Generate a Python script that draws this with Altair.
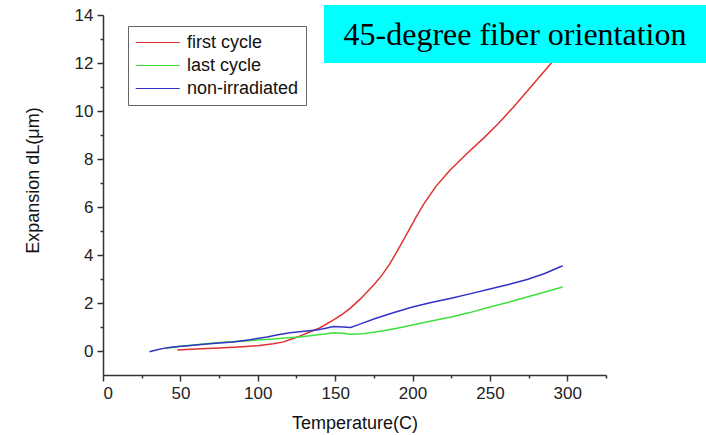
import altair as alt
import pandas as pd

# ---- data ----
first_T = [48, 60, 75, 90, 100, 110, 116, 122, 127, 134, 140, 149, 155, 160, 166, 170, 175, 180,
           185, 190, 196.5, 202, 207, 215, 224, 235, 245.6, 255, 265, 275, 285, 291, 297]
first_v = [0.04, 0.08, 0.13, 0.18, 0.22, 0.30, 0.37, 0.50, 0.62, 0.80, 0.96, 1.30, 1.55, 1.80, 2.15, 2.42,
           2.76, 3.14, 3.60, 4.15, 4.90, 5.55, 6.10, 6.85, 7.52, 8.22, 8.85, 9.45, 10.15, 10.90, 11.65, 12.10, 12.55]

last_T = [40, 45, 50, 60, 70, 80, 90, 100, 110, 120, 127, 135, 142, 149, 155, 160, 168, 175, 181,
          190, 200, 212, 225, 237, 250, 262, 274, 285, 297]
last_v = [0.10, 0.15, 0.20, 0.26, 0.32, 0.37, 0.41, 0.46, 0.50, 0.55, 0.58, 0.65, 0.70, 0.76, 0.74, 0.70,
          0.72, 0.78, 0.84, 0.95, 1.08, 1.25, 1.42, 1.60, 1.83, 2.03, 2.25, 2.45, 2.67]

non_T = [30, 35, 40, 45, 55, 65, 75, 84, 95, 106, 113, 121, 130, 138, 144, 149, 155, 160, 166, 175,
         187, 200, 212, 225, 237, 250, 262, 274, 285, 297]
non_v = [-0.03, 0.05, 0.12, 0.17, 0.22, 0.28, 0.33, 0.38, 0.47, 0.58, 0.68, 0.76, 0.82, 0.87, 0.95, 1.02,
         1.00, 0.98, 1.12, 1.33, 1.58, 1.83, 2.02, 2.20, 2.38, 2.58, 2.77, 2.98, 3.22, 3.55]

series_names = ["first cycle", "last cycle", "non-irradiated"]
series_colors = ["#e03232", "#3ee03e", "#3232c8"]

x_ticks = [0, 25, 50, 75, 100, 125, 150, 175, 200, 225, 250, 275, 300, 325]
y_ticks = [0, 1, 2, 3, 4, 5, 6, 7, 8, 9, 10, 11, 12, 13, 14]

title_text = "45-degree fiber orientation"

rows = []
for name, T, V in zip(series_names, [first_T, last_T, non_T], [first_v, last_v, non_v]):
    for i, (t, v) in enumerate(zip(T, V)):
        rows.append({"series": name, "T": t, "v": v, "order": i})
df = pd.DataFrame(rows)

font = "Liberation Sans"

lines = alt.Chart(df).mark_line(strokeWidth=1.5, clip=True).encode(
    x=alt.X("T:Q", scale=alt.Scale(domain=[0, 325], nice=False, zero=False),
            axis=alt.Axis(values=x_ticks, title="Temperature(C)",
                          labelExpr="datum.value % 50 === 0 && datum.value <= 300 ? datum.label : ''",
                          tickSize={"condition": {"test": "datum.value % 50 === 0", "value": 6}, "value": 3},
                          labelPadding=4, titleY=53, titleBaseline="alphabetic")),
    y=alt.Y("v:Q", scale=alt.Scale(domain=[-1, 14], nice=False, zero=False),
            axis=alt.Axis(values=y_ticks, title="Expansion dL(\u03bcm)",
                          labelExpr="datum.value % 2 === 0 ? datum.label : ''",
                          tickSize={"condition": {"test": "datum.value % 2 === 0", "value": 6}, "value": 3},
                          labelPadding=4, titleX=-70, titleY=165, titleBaseline="middle", titleAngle=-90)),
    color=alt.Color("series:N",
                    scale=alt.Scale(domain=series_names, range=series_colors),
                    legend=alt.Legend(title=None, orient="none", legendX=25, legendY=11,
                                      symbolType="M-1,0H4", symbolSize=310, symbolStrokeWidth=1.2,
                                      labelFontSize=18, labelFont=font, labelColor="#111",
                                      labelOffset=33, rowPadding=4, padding=7,
                                      fillColor="white", strokeColor="#666")),
    order="order:Q",
    detail="series:N",
)

box = alt.Chart(alt.Data(values=[{}])).mark_rect(color="#00ffff").encode(
    x=alt.value(221), x2=alt.value(603), y=alt.value(-10), y2=alt.value(48)
)

label = alt.Chart(alt.Data(values=[{}])).mark_text(
    font="Liberation Serif", fontSize=32, color="black", align="center", baseline="alphabetic"
).encode(x=alt.value(412), y=alt.value(30), text=alt.value(title_text))

chart = alt.layer(lines, box, label).properties(
    width=503, height=360,
    autosize=alt.AutoSizeParams(type="none"),
    padding={"left": 103, "top": 15, "right": 100, "bottom": 60},
    background="white",
).configure_view(stroke=None).configure_axis(
    grid=False, domainColor="#333", domainWidth=1.5, tickColor="#333", tickWidth=1.5,
    labelFont=font, labelFontSize=17, labelColor="#222",
    titleFont=font, titleFontSize=18, titleColor="#111", titleFontWeight="normal",
)

chart.save("out.html", embed_options={"renderer": "svg", "actions": False})
